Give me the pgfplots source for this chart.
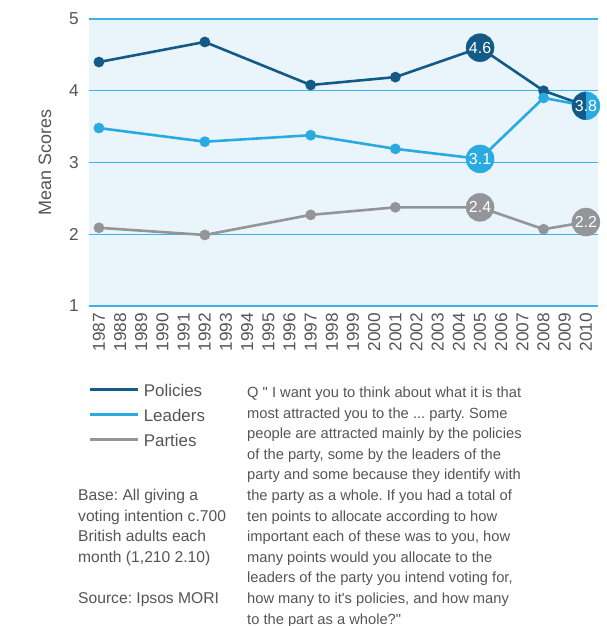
\documentclass[border=0pt]{standalone}
\usepackage{pgfplots}
\pgfplotsset{compat=1.18}
\usepackage{fontspec}
\setmainfont[Ligatures=TeXOff]{Liberation Sans}
\frenchspacing
\definecolor{pol}{HTML}{135A87}
\definecolor{lead}{HTML}{29ABE2}
\definecolor{party}{HTML}{939598}
\definecolor{bg}{HTML}{E9F4FB}
\definecolor{gridc}{HTML}{3BB3E6}
\definecolor{txt}{HTML}{555557}
\pgfdeclareplotmark{lefthalf}{%
  \pgfpathmoveto{\pgfqpoint{0pt}{\pgfplotmarksize}}%
  \pgfpatharc{90}{270}{\pgfplotmarksize}%
  \pgfpathclose\pgfusepathqfill}
\pgfplotstableread{
year pol lead party
1987 4.40 3.48 2.09
1992 4.68 3.29 1.99
1997 4.08 3.38 2.27
2001 4.19 3.19 2.375
2005 4.60 3.05 2.375
2008 4.00 3.90 2.07
2010 3.79 3.79 2.17
}\data
\newcommand{\qline}[2]{\node[anchor=base west, inner sep=0pt, text=txt, font=\fontsize{14.75}{14.75}\selectfont] at (247bp,{(228.5-20.6*#1)*1bp}) {#2};}
\newcommand{\bline}[2]{\node[anchor=base west, inner sep=0pt, text=txt, font=\fontsize{15.7}{15.7}\selectfont] at (78bp,{(228.5-20.6*#1)*1bp}) {#2};}
\begin{document}
\begin{tikzpicture}
\path[use as bounding box] (0,0) rectangle (607bp,626bp);
\begin{axis}[
  at={(89bp,320bp)}, anchor=south west,
  scale only axis, width=509bp, height=287bp,
  xmin=1986.53, xmax=2010.57, ymin=1, ymax=5,
  clip=false,
  axis background/.style={fill=bg},
  axis line style={draw=none},
  tick style={draw=none},
  ymajorgrids, grid style={gridc, line width=1.1bp},
  xtick={1987,...,2010}, ytick={1,2,3,4,5},
  /pgf/number format/assume math mode=true,
  /pgf/number format/1000 sep={},
  tick label style={text=txt, font=\fontsize{17.3}{17.3}\selectfont},
  xticklabel style={rotate=90, anchor=east, inner sep=0pt},
  xticklabel shift=7bp,
  yticklabel style={anchor=east, inner sep=0pt, xshift=-10bp},
  ylabel={Mean Scores},
  ylabel style={at={(axis description cs:-0.0865,0.5)}, anchor=center, text=txt, font=\fontsize{18}{18}\selectfont},
  legend style={at={(axis description cs:0,-0.2735)}, anchor=north west, draw=none, fill=none,
    inner sep=0pt, row sep=9bp, column sep=4bp, text=txt,
    font=\fontsize{17}{17}\selectfont,
    nodes={inner sep=0pt, text height=12bp, text depth=4bp}},
  legend cell align=left,
  legend image code/.code={\draw[#1, mark=none, line width=2.6bp] (0bp,3bp) -- (48bp,3bp);},
]
\addplot[pol, line width=2.6bp, mark=*, mark size=4bp] table[x=year, y=pol] {\data};
\addlegendentry{Policies}
\addplot[lead, line width=2.6bp, mark=*, mark size=4bp] table[x=year, y=lead] {\data};
\addlegendentry{Leaders}
\addplot[party, line width=2.6bp, mark=*, mark size=4bp] table[x=year, y=party] {\data};
\addlegendentry{Parties}
% labelled points
\addplot[forget plot, only marks, mark=*, mark size=14bp, pol, nodes near coords, point meta=explicit symbolic,
  nodes near coords style={anchor=center, text=white, font=\fontsize{16}{16}\selectfont}]
  coordinates {(2005,4.60)[4.6]};
\addplot[forget plot, only marks, mark=*, mark size=14bp, lead, nodes near coords, point meta=explicit symbolic,
  nodes near coords style={anchor=center, text=white, font=\fontsize{16}{16}\selectfont}]
  coordinates {(2005,3.05)[3.1]};
\addplot[forget plot, only marks, mark=*, mark size=14bp, party, nodes near coords, point meta=explicit symbolic,
  nodes near coords style={anchor=center, text=white, font=\fontsize{16}{16}\selectfont}]
  coordinates {(2005,2.375)[2.4] (2010,2.17)[2.2]};
\addplot[forget plot, only marks, mark=*, mark size=14bp, lead] coordinates {(2010,3.79)};
\addplot[forget plot, only marks, mark=lefthalf, mark size=14bp, pol, nodes near coords, point meta=explicit symbolic,
  nodes near coords style={anchor=center, text=white, font=\fontsize{16}{16}\selectfont}]
  coordinates {(2010,3.79)[3.8]};
\end{axis}
\bline{5}{Base: All giving a}
\bline{6}{voting intention c.700}
\bline{7}{British adults each}
\bline{8}{month (1,210 2.10)}
\bline{10}{Source: Ipsos MORI}
\qline{0}{Q " I want you to think about what it is that}
\qline{1}{most attracted you to the ... party. Some}
\qline{2}{people are attracted mainly by the policies}
\qline{3}{of the party, some by the leaders of the}
\qline{4}{party and some because they identify with}
\qline{5}{the party as a whole. If you had a total of}
\qline{6}{ten points to allocate according to how}
\qline{7}{important each of these was to you, how}
\qline{8}{many points would you allocate to the}
\qline{9}{leaders of the party you intend voting for,}
\qline{10}{how many to it's policies, and how many}
\qline{11}{to the part as a whole?"}
\end{tikzpicture}
\end{document}
